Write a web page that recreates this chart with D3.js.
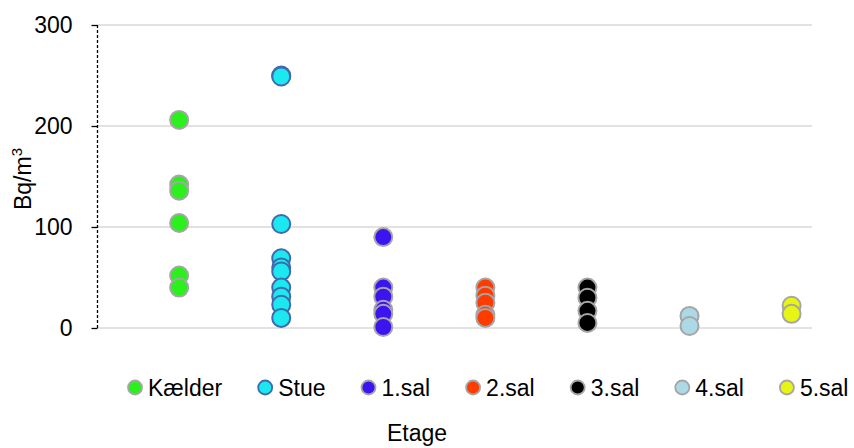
<!DOCTYPE html>
<html><head><meta charset="utf-8">
<script src="https://cdn.jsdelivr.net/npm/d3@7"></script>
<style>
html,body{margin:0;padding:0;background:#fff;}
svg{display:block;font-family:"Liberation Sans",Arial,sans-serif;}
</style></head>
<body>
<svg id="chart" width="854" height="448"></svg>
<script>
// ---- data ----
const categories = ["Kælder", "Stue", "1.sal", "2.sal", "3.sal", "4.sal", "5.sal"];
const kaelder = [206, 142, 136, 104, 52, 40];
const stue = [250, 249, 103, 69, 60, 56, 40, 31, 23, 10];
const sal1 = [90, 40, 31, 18, 14, 1];
const sal2 = [40, 32, 25, 13, 10];
const sal3 = [40, 30, 17, 5];
const sal4 = [12, 2];
const sal5 = [22, 14];
const yTicks = [0, 100, 200, 300];
const yTitle = "Bq/m";
const xTitle = "Etage";

// ---- styles ----
const fills = ["#2cf01e", "#1ce8f0", "#3c14f0", "#ff3c00", "#000000", "#add8e6", "#e6f514"];
const strokes = ["#a6a6a6", "#3f6aae", "#a6a6a6", "#a6a6a6", "#a6a6a6", "#a6a6a6", "#a6a6a6"];
const seriesValues = [kaelder, stue, sal1, sal2, sal3, sal4, sal5];
const FS = 23;

const svg = d3.select("#chart");
const x = d3.scaleLinear().domain([0.2, 7.2]).range([97.5, 812]);
const y = d3.scaleLinear().domain([0, 300]).range([328, 25]);

// gridlines
svg.append("g").selectAll("line").data(yTicks).join("line")
  .attr("x1", x(0.2)).attr("x2", x(7.2))
  .attr("y1", d => y(d)).attr("y2", d => y(d))
  .attr("stroke", "#d9d9d9").attr("stroke-width", 1.3);

// y axis
const yAxis = d3.axisLeft(y).tickValues(yTicks).tickSize(8).tickPadding(17).tickFormat(d3.format("d"));
const ga = svg.append("g").attr("transform", `translate(${x(0.2)},0)`).call(yAxis);
ga.select(".domain").remove();
ga.append("line").attr("x1", 0).attr("x2", 0).attr("y1", y(300)).attr("y2", y(0))
  .attr("stroke", "#000").attr("stroke-width", 1.3).attr("stroke-dasharray", "3,2");
ga.selectAll(".tick line").attr("stroke", "#000").attr("stroke-width", 1.3).attr("stroke-dasharray", "6,10");
ga.selectAll(".tick text").attr("font-size", FS).attr("font-family", "Liberation Sans, Arial, sans-serif").attr("fill", "#000");

// points
const pts = [];
seriesValues.forEach((vals, i) => vals.forEach(v => pts.push({s: i, v})));
svg.append("g").selectAll("circle").data(pts).join("circle")
  .attr("cx", d => x(d.s + 1)).attr("cy", d => y(d.v)).attr("r", 9)
  .attr("fill", d => fills[d.s]).attr("stroke", d => strokes[d.s]).attr("stroke-width", 2);

// y title
const yt = svg.append("text").attr("transform", `translate(31,179) rotate(-90)`)
  .attr("text-anchor", "middle").attr("font-size", FS).attr("fill", "#000");
yt.append("tspan").text(yTitle);
yt.append("tspan").attr("font-size", 15).attr("dy", -9).text("3");

// x title
svg.append("text").attr("x", 417).attr("y", 441).attr("text-anchor", "middle")
  .attr("font-size", FS).attr("fill", "#000").text(xTitle);

// legend
const lg = svg.append("g");
const items = lg.selectAll("g").data(categories).join("g");
items.append("circle").attr("r", 7).attr("cy", 0)
  .attr("fill", (d, i) => fills[i]).attr("stroke", (d, i) => strokes[i]).attr("stroke-width", 1.8);
items.append("text").attr("x", 13).attr("y", 8).attr("font-size", FS).attr("fill", "#000").text(d => d);
let cx = 0;
const widths = [];
items.each(function() { widths.push(this.querySelector("text").getComputedTextLength()); });
const gap = 43;
const offsets = [];
widths.forEach((w, i) => { offsets.push(cx); cx += 13 + w + gap; });
const total = cx - gap + 9;
const start = (123.5 + 851) / 2 - total / 2 + 9;
items.attr("transform", (d, i) => `translate(${start + offsets[i]},387.5)`);
</script>
</body></html>
